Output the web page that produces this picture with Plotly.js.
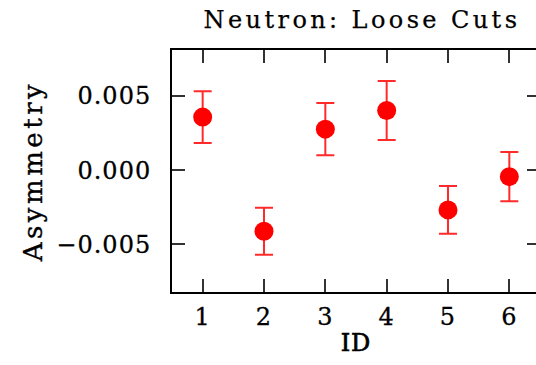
<!DOCTYPE html>
<html>
<head>
<meta charset="utf-8">
<script src="https://cdn.plot.ly/plotly-3.0.1.min.js"></script>
<style>
  html, body { margin: 0; padding: 0; overflow: hidden; background: #fff; }
  #chart { width: 536px; height: 365px; overflow: hidden; }
  .gtitle { letter-spacing: 3.4px; stroke: #000; stroke-width: 0.25px; }
  .ytitle { letter-spacing: 3.5px; stroke: #000; stroke-width: 0.35px; }
  .xtitle { letter-spacing: 1px; stroke: #000; stroke-width: 0.7px; }
  .xtick text, .ytick text { letter-spacing: 1px; stroke: #000; stroke-width: 0.3px; }
</style>
</head>
<body>
<div id="chart"></div>
<script>
const ids = [1, 2, 3, 4, 5, 6];
const asymmetry = [0.00358, -0.00411, 0.00277, 0.00403, -0.00267, -0.00043];
const errors = [0.00174, 0.00158, 0.00176, 0.00199, 0.00161, 0.00166];
const yTickVals = [-0.005, 0.0, 0.005];
const yTickText = ['\u22120.005', '0.000', '0.005'];
const xTickVals = [1, 2, 3, 4, 5, 6];

const font = 'DejaVu Serif, serif';

const trace = {
  x: ids,
  y: asymmetry,
  type: 'scatter',
  mode: 'markers',
  marker: { color: '#ff0000', size: 19 },
  error_y: { type: 'data', array: errors, visible: true, color: '#ff2a2a', thickness: 2, width: 9 },
  showlegend: false
};

const axisCommon = {
  showline: true, linecolor: '#000', linewidth: 2, mirror: 'ticks',
  ticks: 'inside', ticklen: 13, tickwidth: 2, tickcolor: '#333',
  showgrid: false, zeroline: false,
  tickfont: { family: font, size: 24, color: '#000' }
};

const layout = {
  width: 540, height: 365,
  margin: { l: 172, r: 0, t: 50, b: 73 },
  paper_bgcolor: '#fff', plot_bgcolor: '#fff',
  title: {
    text: 'Neutron: Loose Cuts',
    font: { family: font, size: 24, color: '#000' },
    x: 362 / 540, xanchor: 'center', xref: 'container',
    y: 1 - 20 / 365, yanchor: 'middle', yref: 'container'
  },
  xaxis: Object.assign({}, axisCommon, {
    range: [0.5, 6.5], tickvals: xTickVals, ticktext: xTickVals.map(String),
    ticklabelstandoff: 2,
    title: { text: 'ID', font: { family: font, size: 24, color: '#000' }, standoff: 4 }
  }),
  yaxis: Object.assign({}, axisCommon, {
    range: [-0.0082, 0.0081], tickvals: yTickVals, ticktext: yTickText,
    ticklabelstandoff: 14,
    title: { text: 'Asymmetry', font: { family: font, size: 26, color: '#000' }, standoff: 6 }
  })
};

Plotly.newPlot('chart', [trace], layout, { displayModeBar: false, staticPlot: true });
</script>
</body>
</html>
